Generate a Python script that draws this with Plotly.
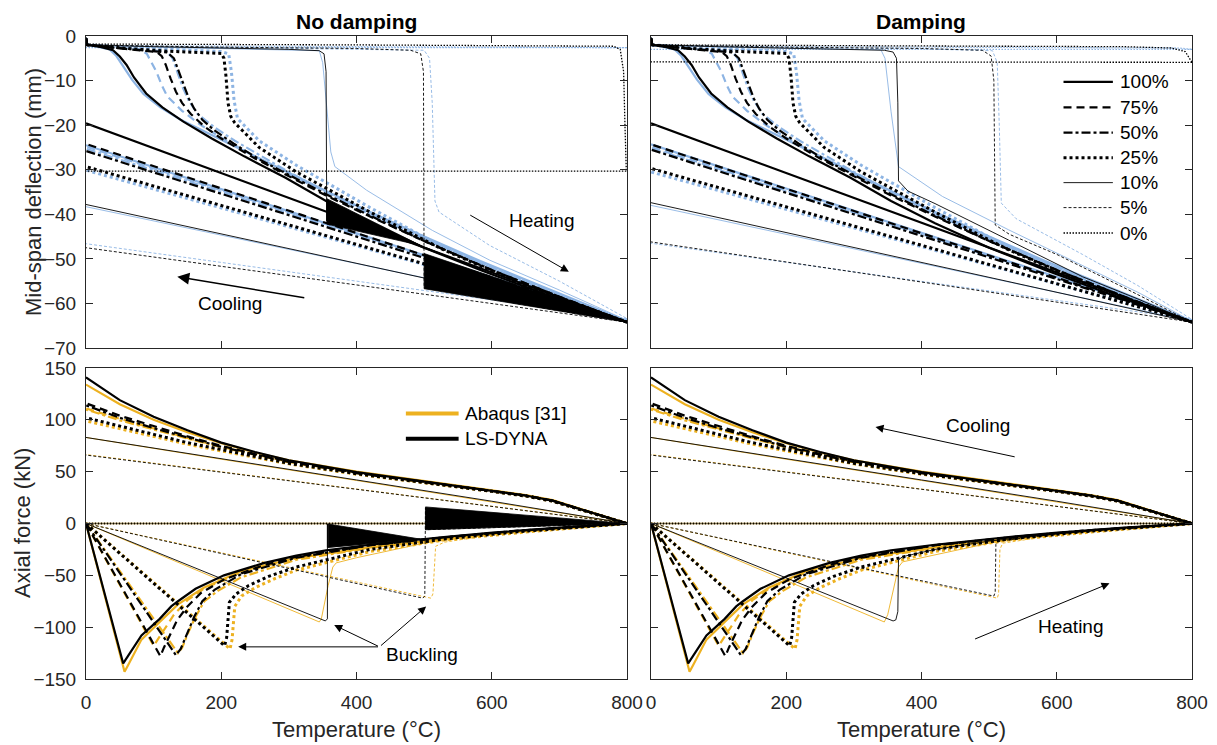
import plotly.graph_objects as go

# ---------------- data ----------------
LOADS = ["100%", "75%", "50%", "25%", "10%", "5%", "0%"]

# --- Mid-span deflection (mm) vs temperature, heating branch ---
top_h_ls_100 = [(0,-0.5),(2,-2),(20,-2.4),(40,-3.2),(50,-4.6),(60,-6.5),(71,-9.3),(89,-12.9),(113,-16),(144,-19.2),(186,-23),(234,-27),(295,-31.8),(355,-37),(420,-42),(500,-47.5),(583,-52.5),(680,-58),(800,-64.2)]
top_h_ab_100 = [(0,-0.5),(2,-2),(20,-2.5),(35,-3),(45,-4.5),(55,-6.8),(68,-9.8),(85,-13),(110,-16),(140,-18.8),(180,-21.8),(230,-25.5),(290,-30),(355,-34.8),(420,-39.5),(500,-45),(583,-50.5),(680,-56.5),(800,-64)]
top_h_ls_75 = [(0,-0.5),(2,-2),(40,-2.6),(80,-3.2),(105,-3.6),(112,-4.5),(118,-6.5),(125,-9.5),(133,-12.5),(142,-15),(155,-17.5),(175,-20.3),(200,-23),(250,-27.5),(300,-31.5),(355,-35.8),(420,-40.5),(500,-46),(600,-52.5),(700,-58.5),(800,-64.2)]
top_h_ab_75 = [(0,-0.5),(2,-2),(40,-2.5),(80,-3),(90,-4),(97,-6),(104,-8),(112,-11),(120,-13.5),(142,-16.8),(170,-20),(200,-22.8),(250,-27),(300,-31),(355,-35),(420,-40),(500,-45.5),(600,-52),(700,-58.2),(800,-64)]
top_h_ls_50 = [(0,-0.5),(2,-2),(40,-2.6),(80,-3.2),(120,-3.7),(130,-5),(137,-8),(145,-11.5),(152,-14),(160,-16.3),(172,-18.8),(190,-21.2),(220,-24.3),(260,-28),(300,-31.2),(355,-35.5),(420,-40.3),(500,-46),(600,-52.5),(700,-58.5),(800,-64.2)]
top_h_ab_50 = [(0,-0.5),(2,-2),(40,-2.5),(80,-3),(120,-3.5),(128,-5),(135,-8),(143,-11.5),(152,-14.5),(165,-17.5),(190,-20.5),(220,-23.5),(260,-27),(300,-30.5),(355,-35),(420,-40),(500,-45.5),(600,-52),(700,-58.2),(800,-64)]
top_h_ls_25 = [(0,-0.5),(2,-2),(60,-2.8),(120,-3.4),(200,-3.9),(204,-5),(207,-9),(210,-15),(214,-18),(220,-19.5),(256,-25),(311,-30.5),(420,-39.5),(529,-48),(650,-56),(800,-64.2)]
top_h_ab_25 = [(0,-0.5),(2,-2),(100,-2.8),(200,-3.5),(211,-4),(215,-8),(219,-14.5),(224,-18.5),(256,-23.5),(311,-29),(420,-38.5),(529,-47.5),(650,-55.5),(800,-64)]

# no damping, 10 %, 5 %, 0 %
top_nd_ls_10 = [(0,-0.5),(2,-2),(100,-2.4),(200,-2.7),(300,-3),(345,-3.3),(352,-4),(355,-8),(356,-41.5),(356,-37),(495,-47),(600,-53.5),(700,-58.8),(800,-64.2)]
top_nd_ab_10 = [(0,-0.5),(2,-2),(100,-2.5),(200,-2.8),(300,-3),(345,-3.3),(350,-6),(355,-15),(362,-26),(368,-29.3),(415,-34.6),(512,-43.6),(597,-50.3),(700,-57),(800,-63.8)]
top_nd_ls_5 = [(0,-0.5),(2,-2),(200,-2.5),(400,-2.8),(480,-3.2),(495,-4),(499,-8),(500,-56.5),(800,-64.2)]
top_nd_ab_5 = [(0,-0.5),(2,-2),(200,-2.6),(400,-2.9),(500,-3.2),(508,-5),(512,-15),(516,-37),(522,-39.5),(597,-47),(700,-55),(800,-63.4)]
top_nd_ls_0 = [(0,-0.3),(2,-1.8),(400,-2.0),(780,-2.3),(790,-3),(795,-8),(797,-20),(799,-30.3)]
top_nd_ab_0 = [(0,-0.3),(2,-2.2),(400,-2.4),(800,-2.6)]
# damping, 10 %, 5 %, 0 %
top_d_ls_10 = [(0,-0.5),(2,-2),(100,-2.4),(200,-2.7),(300,-3),(345,-3.2),(358,-3.6),(363,-5),(365,-15),(366,-32.5),(380,-34.8),(420,-37.6),(529,-45.8),(638,-54),(720,-59),(800,-64.2)]
top_d_ab_10 = [(0,-0.5),(2,-2),(100,-2.5),(200,-2.8),(340,-3.1),(346,-5),(355,-17),(366,-29.3),(431,-36),(529,-43.5),(638,-51.5),(720,-57.5),(800,-64)]
top_d_ls_5 = [(0,-0.5),(2,-2),(200,-2.5),(400,-2.8),(490,-3.2),(503,-4.5),(507,-10),(509,-42.4),(530,-44.5),(600,-49),(700,-56.5),(800,-64.2)]
top_d_ab_5 = [(0,-0.5),(2,-2),(200,-2.6),(400,-2.9),(505,-3.3),(512,-6),(515,-20),(518,-37.5),(540,-41),(638,-49),(720,-56),(800,-63.6)]
top_d_ls_0 = [(0,-0.3),(2,-2),(700,-2.4),(770,-2.7),(790,-3.5),(798,-5.3),(800,-5.9)]
top_d_ab_0 = [(0,-0.3),(2,-2.3),(400,-2.5),(780,-2.7),(800,-3.0)]

# residual deflection at end of cooling (T = 0), order of LOADS
top_cool_end_nd_ls = [-19.6, -24.2, -25.8, -29.3, -37.8, -47.5, -30.3]
top_cool_end_nd_ab = [-24.5, -24.8, -25.3, -30.1, -38.3, -46.6, -2.6]
top_cool_end_d_ls = [-19.6, -24.3, -25.5, -29.7, -37.4, -46.2, -5.8]
top_cool_end_d_ab = [-24.3, -24.9, -25.2, -30.5, -38.0, -46.5, -3.0]

# oscillation envelopes (LS-DYNA, no damping)
top_nd_osc_a = [(356,-36.5),(495,-47),(356,-42.2)]
top_nd_osc_b = [(500,-48.8),(800,-64.2),(500,-56.7)]

# --- Axial force (kN) vs temperature, heating branch ---
bot_h_ls_100 = [(0,0),(55,-135),(62,-128),(82,-108),(109,-92),(126,-80),(136,-75),(162,-63),(204,-50),(264,-38),(311,-31),(355,-26),(420,-20.5),(476,-16.5),(529,-13),(597,-9),(638,-6.8),(700,-4),(800,0)]
bot_h_ab_100 = [(0,0),(57,-143),(62,-137),(82,-112),(109,-95),(136,-78),(174,-62),(229,-46),(311,-33),(420,-23),(529,-15),(638,-8),(720,-3.5),(800,0)]
bot_h_ls_75 = [(0,0),(110,-128),(115,-120),(125,-106),(135,-93),(150,-80),(170,-67),(204,-54),(264,-40),(311,-32),(420,-21),(529,-13.5),(638,-7),(800,0)]
bot_h_ab_75 = [(0,0),(100,-118),(106,-112),(118,-100),(130,-88),(150,-74),(174,-63),(229,-47),(311,-33.5),(420,-23),(529,-15),(638,-8),(800,0)]
bot_h_ls_50 = [(0,0),(133,-127),(140,-121),(150,-105),(160,-90),(172,-75),(190,-64),(229,-49),(311,-33),(420,-21),(529,-13.5),(638,-7),(800,0)]
bot_h_ab_50 = [(0,0),(136,-125),(142,-120),(152,-104),(162,-90),(175,-75),(195,-65),(229,-52),(311,-35),(420,-23.5),(529,-15),(638,-8),(800,0)]
bot_h_ls_25 = [(0,0),(205,-118),(208,-110),(210,-90),(212,-76),(222,-68),(240,-60),(270,-51),(311,-42),(420,-25),(529,-15),(638,-8),(800,0)]
bot_h_ab_25 = [(0,0),(213,-121),(216,-112),(218,-95),(220,-80),(230,-70),(250,-62),(280,-53),(311,-45),(420,-27),(529,-16),(638,-9),(800,0)]
bot_nd_ls_10 = [(0,0),(354,-94),(357,-92),(357,-0.5),(357,-23),(494,-15),(529,-13.5),(638,-7),(800,0)]
bot_nd_ab_10 = [(0,0),(345,-95),(348,-92),(358,-60),(365,-42),(370,-38),(400,-33),(450,-26),(500,-19),(600,-10),(700,-4),(800,0)]
bot_nd_ls_5 = [(0,0),(498,-72),(501,-70),(502,15),(502,-6),(800,0)]
bot_nd_ab_5 = [(0,0),(510,-72),(513,-68),(515,-40),(517,-22),(530,-18),(600,-11),(700,-4.5),(800,0)]
bot_d_ls_10 = [(0,0),(358,-94),(362,-93),(365,-85),(366,-35),(372,-32),(420,-25),(500,-17),(600,-10),(700,-4),(800,0)]
bot_d_ab_10 = [(0,0),(345,-95),(350,-88),(360,-60),(366,-42),(372,-37),(400,-33),(450,-26),(500,-19),(600,-10),(700,-4),(800,0)]
bot_d_ls_5 = [(0,0),(507,-70),(509,-66),(510,-20),(515,-17),(600,-10),(700,-4),(800,0)]
bot_d_ab_5 = [(0,0),(512,-72),(514,-68),(516,-25),(520,-19),(600,-11),(700,-4.5),(800,0)]
bot_h_0 = [(0,0),(800,0)]

# --- Axial force, cooling branch (same in both panels) ---
bot_c_ls_100 = [(800,0),(760,8),(720,16),(690,22),(650,27),(600,31.5),(500,40),(400,49.5),(300,61),(250,69),(200,78),(150,90),(100,103),(50,119),(0,141)]
bot_c_ab_100 = [(800,0),(760,8),(720,16.5),(690,22.5),(650,27.5),(600,32),(500,40.5),(400,50),(300,61),(250,68.5),(200,77.5),(150,88),(100,100),(50,115),(0,134)]
bot_c_ls_75 = [(800,0),(760,8),(720,16),(690,22),(650,27),(600,31.5),(500,40),(400,49),(300,60),(250,67),(200,75),(150,84),(100,94),(50,104),(0,116)]
bot_c_ab_75 = [(800,0),(760,8),(720,16),(690,22),(650,27),(600,31.5),(500,40),(400,49),(300,59.5),(250,66.5),(200,74),(150,82.5),(100,91.5),(50,101),(0,111)]
bot_c_ls_50 = [(800,0),(760,8),(720,16),(690,22),(650,27),(600,31.5),(500,40),(400,48.5),(300,59.5),(250,66.5),(200,74),(150,83),(100,92),(50,102),(0,114)]
bot_c_ab_50 = [(800,0),(760,8),(720,16),(690,22),(650,27),(600,31.5),(500,39.5),(400,48.5),(300,59),(250,66),(200,73.5),(150,82),(100,90.5),(50,99.5),(0,110)]
bot_c_ls_25 = [(800,0),(760,7.5),(720,15.5),(690,21.5),(650,26.5),(600,31),(500,39.5),(400,48),(300,58),(250,64.5),(200,71),(150,78),(100,86),(50,94),(0,102)]
bot_c_ab_25 = [(800,0),(760,7.5),(720,15.5),(690,21.5),(650,26.5),(600,31),(500,39),(400,47.5),(300,57.5),(250,63.5),(200,70),(150,76.5),(100,84),(50,91.5),(0,99)]
bot_c_ls_10 = [(800,0),(700,11),(600,21.5),(400,42),(200,62.5),(0,83)]
bot_c_ab_10 = [(800,0),(600,21),(400,41.5),(200,62),(0,83)]
bot_c_ls_5 = [(800,0),(400,33),(0,66)]
bot_c_ab_5 = [(800,0),(400,33),(0,66.5)]
bot_c_0 = [(800,0),(0,0)]

bot_nd_osc_a = [(358,-0.5),(494,-15),(358,-23)]
bot_nd_osc_b = [(502,16),(800,0),(502,-6)]

# legend / annotation texts
LEGEND_SW = ["Abaqus [31]", "LS-DYNA"]
legend_load_y = [-10.3, -16.0, -21.7, -27.3, -32.9, -38.5, -44.2]
legend_load_x = [610, 683]
legend_sw_y = [106, 81.7]
legend_sw_x = [473, 551]

# ---------------- styles ----------------
BLACK = "#000000"
BLUE = "#8db4e3"
ORANGE = "#edb120"
AXC = "#262626"
FONT = "Arial, Liberation Sans, sans-serif"
STYLE = {
    "100%": (2.2, "solid"),
    "75%": (2.2, "8px,5px"),
    "50%": (2.2, "9px,3px,3px,3px"),
    "25%": (3.0, "3px,3px"),
    "10%": (0.9, "solid"),
    "5%": (0.9, "3px,2px"),
    "0%": (1.3, "1.5px,1.5px"),
}

fig = go.Figure()


def add_line(pts, color, load, xa, ya):
    w, dash = STYLE[load]
    fig.add_trace(go.Scatter(
        x=[p[0] for p in pts], y=[p[1] for p in pts], mode="lines",
        line=dict(color=color, width=w, dash=dash),
        xaxis=xa, yaxis=ya, showlegend=False, hoverinfo="skip"))


def add_fill(pts, xa, ya):
    fig.add_trace(go.Scatter(
        x=[p[0] for p in pts] + [pts[0][0]], y=[p[1] for p in pts] + [pts[0][1]],
        mode="lines", fill="toself", fillcolor=BLACK,
        line=dict(color=BLACK, width=0.8), xaxis=xa, yaxis=ya,
        showlegend=False, hoverinfo="skip"))


top_shared_ab = [top_h_ab_100, top_h_ab_75, top_h_ab_50, top_h_ab_25]
top_shared_ls = [top_h_ls_100, top_h_ls_75, top_h_ls_50, top_h_ls_25]

panels_top = [
    ("x", "y", top_shared_ab + [top_nd_ab_10, top_nd_ab_5, top_nd_ab_0],
     top_shared_ls + [top_nd_ls_10, top_nd_ls_5, top_nd_ls_0],
     top_cool_end_nd_ab, top_cool_end_nd_ls, [top_nd_osc_a, top_nd_osc_b]),
    ("x2", "y2", top_shared_ab + [top_d_ab_10, top_d_ab_5, top_d_ab_0],
     top_shared_ls + [top_d_ls_10, top_d_ls_5, top_d_ls_0],
     top_cool_end_d_ab, top_cool_end_d_ls, []),
]
for xa, ya, ab_list, ls_list, ab_end, ls_end, fills in panels_top:
    for load, pts, end in zip(LOADS, ab_list, ab_end):
        add_line(pts, BLUE, load, xa, ya)
        add_line([pts[-1], (0, end)], BLUE, load, xa, ya)
    for load, pts, end in zip(LOADS, ls_list, ls_end):
        add_line(pts, BLACK, load, xa, ya)
        add_line([pts[-1], (0, end)], BLACK, load, xa, ya)
    for f in fills:
        add_fill(f, xa, ya)

bot_shared_ab = [bot_h_ab_100, bot_h_ab_75, bot_h_ab_50, bot_h_ab_25]
bot_shared_ls = [bot_h_ls_100, bot_h_ls_75, bot_h_ls_50, bot_h_ls_25]
bot_cool_ab = [bot_c_ab_100, bot_c_ab_75, bot_c_ab_50, bot_c_ab_25, bot_c_ab_10, bot_c_ab_5, bot_c_0]
bot_cool_ls = [bot_c_ls_100, bot_c_ls_75, bot_c_ls_50, bot_c_ls_25, bot_c_ls_10, bot_c_ls_5, bot_c_0]

panels_bot = [
    ("x3", "y3", bot_shared_ab + [bot_nd_ab_10, bot_nd_ab_5, bot_h_0],
     bot_shared_ls + [bot_nd_ls_10, bot_nd_ls_5, bot_h_0], [bot_nd_osc_a, bot_nd_osc_b]),
    ("x4", "y4", bot_shared_ab + [bot_d_ab_10, bot_d_ab_5, bot_h_0],
     bot_shared_ls + [bot_d_ls_10, bot_d_ls_5, bot_h_0], []),
]
for xa, ya, ab_list, ls_list, fills in panels_bot:
    for load, pts, cpts in zip(LOADS, ab_list, bot_cool_ab):
        add_line(pts, ORANGE, load, xa, ya)
        add_line(cpts, ORANGE, load, xa, ya)
    for load, pts, cpts in zip(LOADS, ls_list, bot_cool_ls):
        add_line(pts, BLACK, load, xa, ya)
        add_line(cpts, BLACK, load, xa, ya)
    for f in fills:
        add_fill(f, xa, ya)

annotations = []
# load-level legend (top-right panel)
for load, yv in zip(LOADS, legend_load_y):
    w, dash = STYLE[load]
    fig.add_trace(go.Scatter(x=legend_load_x, y=[yv, yv], mode="lines",
                             line=dict(color=BLACK, width=w, dash=dash),
                             xaxis="x2", yaxis="y2", showlegend=False, hoverinfo="skip"))
    annotations.append(dict(x=legend_load_x[1] + 8, y=yv, xref="x2", yref="y2", text=load,
                            showarrow=False, xanchor="left", yanchor="middle",
                            font=dict(family=FONT, size=19, color=BLACK)))
# software legend (bottom-left panel)
for name, col, yv in zip(LEGEND_SW, [ORANGE, BLACK], legend_sw_y):
    fig.add_trace(go.Scatter(x=legend_sw_x, y=[yv, yv], mode="lines",
                             line=dict(color=col, width=4),
                             xaxis="x3", yaxis="y3", showlegend=False, hoverinfo="skip"))
    annotations.append(dict(x=legend_sw_x[1] + 7, y=yv, xref="x3", yref="y3", text=name,
                            showarrow=False, xanchor="left", yanchor="middle",
                            font=dict(family=FONT, size=19, color=BLACK)))


def text_ann(txt, x, y, xr, yr):
    annotations.append(dict(x=x, y=y, xref=xr, yref=yr, text=txt, showarrow=False,
                            font=dict(family=FONT, size=19, color=BLACK)))


def arrow_ann(head, tail, xr, yr, w=1.0):
    annotations.append(dict(x=head[0], y=head[1], ax=tail[0], ay=tail[1], xref=xr, yref=yr,
                            axref=xr, ayref=yr, text="", showarrow=True, arrowhead=2,
                            arrowsize=1.6, arrowwidth=w, arrowcolor=BLACK))


text_ann("Heating", 674, -41.5, "x", "y")
arrow_ann((714, -52.9), (566, -40), "x", "y")
text_ann("Cooling", 213, -60, "x", "y")
arrow_ann((135, -54), (325, -58.8), "x", "y", 1.5)

text_ann("Buckling", 497, -126.6, "x3", "y3")
for head in [(367, -98), (503, -80), (225, -119)]:
    arrow_ann(head, (434, -119), "x3", "y3")

text_ann("Cooling", 484, 94.6, "x4", "y4")
arrow_ann((332, 93), (540, 64), "x4", "y4")
text_ann("Heating", 621, -99.4, "x4", "y4")
arrow_ann((678, -57.7), (477, -112), "x4", "y4")

# titles and axis titles (paper coordinates)
W, H = 1217, 745
for txt, px, py, ang, bold in [
    ("No damping", 356, 21, 0, True), ("Damping", 921, 21, 0, True),
    ("Mid-span deflection (mm)", 33, 192, -90, False),
    ("Axial force (kN)", 22, 523, -90, False),
    ("Temperature (°C)", 356, 729, 0, False), ("Temperature (°C)", 921, 729, 0, False),
]:
    annotations.append(dict(x=px / W, y=1 - py / H, xref="paper", yref="paper",
                            text=f"<b>{txt}</b>" if bold else txt, textangle=ang,
                            showarrow=False, xanchor="center", yanchor="middle",
                            font=dict(family=FONT, size=22 if not bold else 21, color=BLACK if bold else AXC)))

ax_common = dict(showgrid=False, zeroline=False, showline=True, linecolor=AXC, linewidth=1,
                 mirror="ticks", ticks="inside", ticklen=7, tickwidth=1, tickcolor=AXC,
                 tickfont=dict(family=FONT, size=19, color=AXC), automargin=False)

xl = [86 / W, 627 / W]
xr = [651 / W, 1192 / W]
yt = [1 - 348 / H, 1 - 36 / H]
yb = [1 - 679 / H, 1 - 368 / H]

fig.update_layout(
    width=W, height=H, margin=dict(l=0, r=0, t=0, b=0),
    paper_bgcolor="white", plot_bgcolor="white", showlegend=False,
    xaxis=dict(ax_common, domain=xl, range=[0, 800], dtick=200, showticklabels=False, anchor="y"),
    yaxis=dict(ax_common, domain=yt, range=[-70, 0], dtick=10, anchor="x", ticklabelstandoff=5),
    xaxis2=dict(ax_common, domain=xr, range=[0, 800], dtick=200, showticklabels=False, anchor="y2"),
    yaxis2=dict(ax_common, domain=yt, range=[-70, 0], dtick=10, showticklabels=False, anchor="x2"),
    xaxis3=dict(ax_common, domain=xl, range=[0, 800], dtick=200, anchor="y3", ticklabelstandoff=6),
    yaxis3=dict(ax_common, domain=yb, range=[-150, 150], dtick=50, anchor="x3", ticklabelstandoff=5),
    xaxis4=dict(ax_common, domain=xr, range=[0, 800], dtick=200, anchor="y4", ticklabelstandoff=6),
    yaxis4=dict(ax_common, domain=yb, range=[-150, 150], dtick=50, showticklabels=False, anchor="x4"),
    annotations=annotations,
)

fig.write_html("out.html")
